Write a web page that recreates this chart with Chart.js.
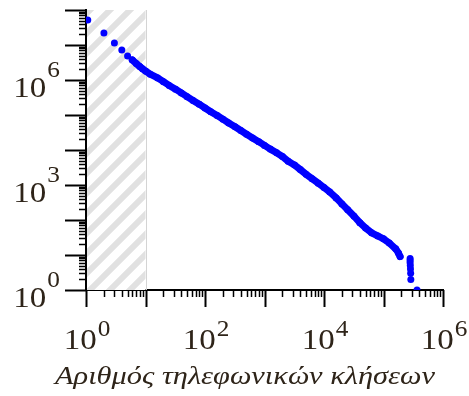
<!DOCTYPE html>
<html>
<head>
<meta charset="utf-8">
<script src="https://cdn.jsdelivr.net/npm/chart.js@4.4.0/dist/chart.umd.min.js"></script>
<style>
  html, body { margin: 0; padding: 0; background: #fff; }
  #graphe { display: block; }
</style>
</head>
<body>
<canvas id="graphe" width="469" height="396"></canvas>
<script>
// premiers points isoles (en haut a gauche)
var premiersX = [1.07, 2, 3, 4, 5];
var premiersY = [5.2e7, 2.2e7, 1.14e7, 7.2e6, 4.85e6];

// partie dense de la courbe
var courbeX = [6, 7, 8, 9, 10, 12, 16, 20, 25, 32, 40, 50, 63, 80, 100, 125, 160, 200, 250, 320, 400, 500, 630, 800,
    1000, 1250, 1600, 2000, 2500, 3200, 4000, 5000, 6300, 8000, 10000, 12500, 16000, 20000, 25000, 32000,
    40000, 50000, 63000, 80000, 100000, 125000, 160000, 178000, 190000];
var courbeY = [3.73e6, 2.96e6, 2.43e6, 2.06e6, 1.81e6, 1.47e6, 1.15e6, 8.95e5, 7.0e5, 5.47e5, 4.27e5, 3.34e5, 2.61e5, 2.04e5,
    1.59e5, 1.24e5, 9.7e4, 7.6e4, 5.9e4, 4.6e4, 3.6e4, 2.83e4, 2.21e4, 1.73e4,
    1.35e4, 1.06e4, 8300, 6500, 4800, 3700, 2750, 2020, 1520, 1130, 849, 631, 428, 288, 196, 128,
    84, 59, 43, 35, 29, 22, 15, 11.5, 9];

// la queue verticale et le dernier point
var queueX = [280000, 280000, 280000, 282000, 284000, 286000, 288000, 366000];
var queueY = [8, 7, 6, 5, 4, 3, 2, 1];

var zoneHachuree = [1, 10];
var exposantsX = ['0', '2', '4', '6'];
var exposantsY = ['0', '3', '6'];
var titreX = 'Αριθμός τηλεφωνικών κλήσεων';

var bleu = '#0000ff';
var couleurTexte = '#2e2419';

function points(xs, ys) {
    return xs.map(function (x, i) { return {x: x, y: ys[i]}; });
}

function ticksLog(scale) {
    var ticks = [];
    var e, s;
    var minE = Math.round(Math.log10(scale.min));
    var maxE = Math.round(Math.log10(scale.max));
    for (e = minE; e < maxE; e++) {
        for (s = 1; s < 10; s++) {
            ticks.push({value: s * Math.pow(10, e)});
        }
    }
    ticks.push({value: Math.pow(10, maxE)});
    scale.ticks = ticks;
}

function motifHachure(ctx) {
    var c = document.createElement('canvas');
    c.width = 20;
    c.height = 20;
    var p = c.getContext('2d');
    p.fillStyle = '#ffffff';
    p.fillRect(0, 0, 20, 20);
    p.strokeStyle = '#e1e1e1';
    p.lineWidth = 6;
    p.beginPath();
    p.moveTo(-5, 25); p.lineTo(25, -5);
    p.moveTo(-15, 15); p.lineTo(15, -15);
    p.moveTo(5, 35); p.lineTo(35, 5);
    p.stroke();
    return ctx.createPattern(c, 'repeat');
}

function puissance(ctx, exp, x, yBase, yExp) {
    var etire = 1.1;
    ctx.font = '30px "Liberation Serif"';
    var w10 = ctx.measureText('10').width;
    ctx.save();
    ctx.translate(x, 0);
    ctx.scale(etire, 1);
    ctx.fillText('10', 0, yBase);
    ctx.font = '23px "Liberation Serif"';
    ctx.fillText(exp, w10 + 1, yExp);
    ctx.restore();
}

function largeurPuissance(ctx, exp) {
    ctx.font = '30px "Liberation Serif"';
    var w = ctx.measureText('10').width + 1;
    ctx.font = '23px "Liberation Serif"';
    w += ctx.measureText(exp).width;
    return w * 1.1;
}

var hachures = {
    id: 'hachures',
    beforeDatasetsDraw: function (chart) {
        var ctx = chart.ctx;
        var area = chart.chartArea;
        var x0 = chart.scales.x.getPixelForValue(zoneHachuree[0]);
        var x1 = chart.scales.x.getPixelForValue(zoneHachuree[1]);
        ctx.save();
        ctx.fillStyle = motifHachure(ctx);
        ctx.fillRect(x0 + 1, area.top, x1 - x0 - 1, area.bottom - area.top);
        ctx.strokeStyle = '#d4d4d4';
        ctx.lineWidth = 1;
        ctx.beginPath();
        ctx.moveTo(Math.round(x1) + 0.5, area.top);
        ctx.lineTo(Math.round(x1) + 0.5, area.bottom);
        ctx.stroke();
        ctx.restore();
    }
};

var axes = {
    id: 'axes',
    afterDraw: function (chart) {
        var ctx = chart.ctx;
        var area = chart.chartArea;
        var sx = chart.scales.x;
        var sy = chart.scales.y;
        ctx.save();
        ctx.strokeStyle = '#000';

        // graduations
        sy.ticks.forEach(function (t) {
            var py = Math.round(sy.getPixelForValue(t.value)) + 0.5;
            var majeur = Math.abs(Math.log10(t.value) % 1) < 1e-9;
            ctx.lineWidth = majeur ? 2 : 1.5;
            ctx.beginPath();
            ctx.moveTo(area.left - (majeur ? 21 : 7), py);
            ctx.lineTo(area.left, py);
            ctx.stroke();
        });
        sx.ticks.forEach(function (t) {
            var px = Math.round(sx.getPixelForValue(t.value)) + 0.5;
            var majeur = Math.abs(Math.log10(t.value) % 1) < 1e-9;
            ctx.lineWidth = majeur ? 2 : 1.5;
            ctx.beginPath();
            ctx.moveTo(px, area.bottom);
            ctx.lineTo(px, area.bottom + (majeur ? 17 : 7));
            ctx.stroke();
        });

        // etiquettes
        ctx.fillStyle = couleurTexte;
        ctx.textBaseline = 'alphabetic';
        ctx.textAlign = 'left';
        exposantsX.forEach(function (e) {
            var px = sx.getPixelForValue(Math.pow(10, +e));
            var w = largeurPuissance(ctx, e);
            puissance(ctx, e, px - w / 2 + 1, area.bottom + 59, area.bottom + 46);
        });
        exposantsY.forEach(function (e) {
            var py = sy.getPixelForValue(Math.pow(10, +e));
            var w = largeurPuissance(ctx, e);
            puissance(ctx, e, area.left - 26 - w, py + 17, py - 3);
        });

        // titre de l'axe x
        ctx.font = 'italic 25px "Liberation Serif"';
        var wt = ctx.measureText(titreX).width;
        var etire = 380 / wt;
        ctx.translate(245, 0);
        ctx.scale(etire, 1);
        ctx.textAlign = 'center';
        ctx.fillText(titreX, 0, area.bottom + 94);
        ctx.restore();
    }
};

var graphe = new Chart(document.getElementById('graphe').getContext('2d'), {
    type: 'scatter',
    data: {
        datasets: [{
            data: points(premiersX, premiersY),
            backgroundColor: bleu,
            borderColor: bleu,
            pointRadius: 3.5,
            pointBorderWidth: 0
        }, {
            data: points(courbeX, courbeY),
            backgroundColor: bleu,
            borderColor: bleu,
            pointRadius: 3.5,
            pointBorderWidth: 0,
            showLine: true,
            borderWidth: 7,
            borderCapStyle: 'round',
            borderJoinStyle: 'round'
        }, {
            data: points(queueX, queueY),
            backgroundColor: bleu,
            borderColor: bleu,
            pointRadius: 3.5,
            pointBorderWidth: 0
        }]
    },
    options: {
        responsive: false,
        animation: false,
        devicePixelRatio: 1,
        layout: { padding: { left: 86, right: 26, top: 10, bottom: 106 } },
        plugins: { legend: { display: false }, tooltip: { enabled: false } },
        scales: {
            x: {
                type: 'logarithmic',
                min: 1,
                max: 1e6,
                afterBuildTicks: ticksLog,
                ticks: { display: false },
                grid: { display: false, drawTicks: false },
                border: { display: true, color: '#000', width: 2 }
            },
            y: {
                type: 'logarithmic',
                min: 1,
                max: 1e8,
                afterBuildTicks: ticksLog,
                ticks: { display: false },
                grid: { display: false, drawTicks: false },
                border: { display: true, color: '#000', width: 2 }
            }
        }
    },
    plugins: [hachures, axes]
});
</script>
</body>
</html>
